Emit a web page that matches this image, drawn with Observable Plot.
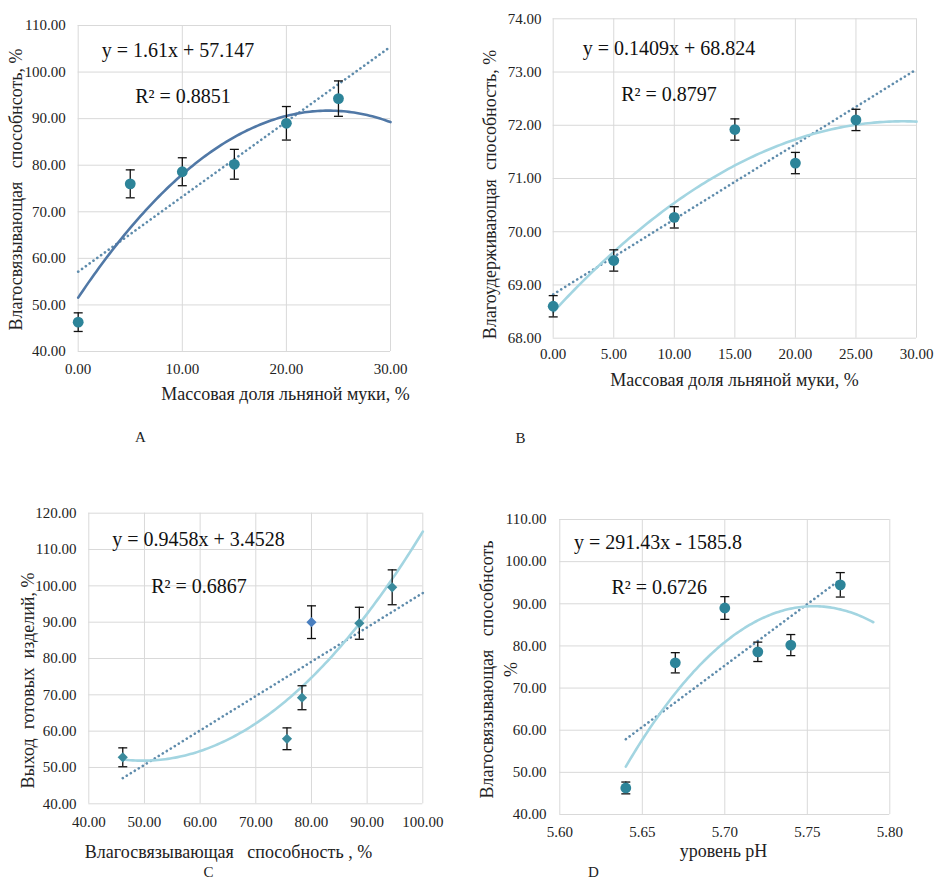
<!DOCTYPE html>
<html><head><meta charset="utf-8">
<script src="https://cdn.jsdelivr.net/npm/d3@7"></script>
<script src="https://cdn.jsdelivr.net/npm/@observablehq/plot@0.6"></script>
<style>
body{margin:0;background:#fff;}
#wrap{position:relative;width:944px;height:882px;background:#fff;overflow:hidden}
#wrap svg text{font-family:"Liberation Serif",serif !important;}
</style></head><body><div id="wrap"></div>
<script>
// ---------- data ----------
const aX = [0, 5, 10, 15, 20, 25];
const aY = [46.3, 76.0, 78.6, 80.2, 89.0, 94.3];
const aErr = [2.0, 3.0, 3.0, 3.2, 3.6, 3.8];

const bX = [0, 5, 10, 15, 20, 25];
const bY = [68.6, 69.46, 70.27, 71.92, 71.29, 72.1];
const bErr = [0.2, 0.2, 0.2, 0.2, 0.2, 0.2];

const cX = [46.1, 75.6, 78.3, 80.0, 88.6, 94.5];
const cY = [52.8, 57.9, 69.2, 90.0, 89.7, 99.6];
const cErr = [2.6, 3.0, 3.3, 4.5, 4.4, 4.8];
const cGroup = ["main", "main", "main", "other", "main", "main"];

const dX = [5.64, 5.67, 5.70, 5.72, 5.74, 5.77];
const dY = [46.3, 76.0, 89.0, 78.6, 80.2, 94.5];
const dErr = [1.4, 2.4, 2.7, 2.3, 2.5, 2.9];

const linSlope = [1.61, 0.1409, 0.9458, 291.43];
const linIntercept = [57.147, 68.824, 3.4528, -1585.8];
const rSquared = ["0.8851", "0.8797", "0.6867", "0.6726"];

const aXTicks = [0, 10, 20, 30];
const aYTicks = [40, 50, 60, 70, 80, 90, 100, 110];
const bXTicks = [0, 5, 10, 15, 20, 25, 30];
const bYTicks = [68, 69, 70, 71, 72, 73, 74];
const cXTicks = [40, 50, 60, 70, 80, 90, 100];
const cYTicks = [40, 50, 60, 70, 80, 90, 100, 110, 120];
const dXTicks = [5.60, 5.65, 5.70, 5.75, 5.80];
const dYTicks = [40, 50, 60, 70, 80, 90, 100, 110];

const panelLabels = ["A", "B", "C", "D"];
const xTitles = ["Массовая доля льняной муки, %", "Массовая доля льняной муки, %",
  "Влагосвязывающая\u00a0\u00a0\u00a0способность , %", "уровень pH"];
const yTitles = ["Влагосвязывающая\u00a0\u00a0\u00a0способнсоть, %", "Влагоудерживающая\u00a0\u00a0способность, %",
  "Выход\u00a0\u00a0готовых\u00a0\u00a0изделий, %", "Влагосвязывающая\u00a0\u00a0\u00a0способнсоть\n%"];

// ---------- helpers ----------
const FONT = "Liberation Serif";
const fmt = d3.format(".2f");
const capSymbol = {draw(ctx, size) { const r = Math.sqrt(size / Math.PI); ctx.moveTo(-r, 0); ctx.lineTo(r, 0); }};

function quadFit(xs, ys) {
  const mx = d3.mean(xs);
  let S = [0, 0, 0, 0, 0], T = [0, 0, 0];
  xs.forEach((x, i) => {
    const u = x - mx;
    for (let k = 0; k < 5; k++) S[k] += u ** k;
    for (let k = 0; k < 3; k++) T[k] += (u ** k) * ys[i];
  });
  const M = [[S[0], S[1], S[2], T[0]], [S[1], S[2], S[3], T[1]], [S[2], S[3], S[4], T[2]]];
  for (let c = 0; c < 3; c++) {
    for (let r = c + 1; r < 3; r++) {
      const f = M[r][c] / M[c][c];
      for (let k = c; k < 4; k++) M[r][k] -= f * M[c][k];
    }
  }
  const co = [0, 0, 0];
  for (let r = 2; r >= 0; r--) {
    let s = M[r][3];
    for (let k = r + 1; k < 3; k++) s -= M[r][k] * co[k];
    co[r] = s / M[r][r];
  }
  return x => co[0] + co[1] * (x - mx) + co[2] * (x - mx) ** 2;
}
function sample(f, x0, x1) {
  return d3.range(0, 121).map(i => { const x = x0 + (x1 - x0) * i / 120; return {x, y: f(x)}; });
}
function eqText(i) {
  const b = linIntercept[i];
  return `y = ${linSlope[i]}x ${b < 0 ? "-" : "+"} ${Math.abs(b)}`;
}

function panel(cfg) {
  const [ml, mt, mr, mb] = cfg.m;
  const at = (x, y) => ({frameAnchor: "top-left", dx: x - ml, dy: y - mt});
  const pts = cfg.xs.map((x, i) => ({x, y: cfg.ys[i], lo: cfg.ys[i] - cfg.err[i], hi: cfg.ys[i] + cfg.err[i], g: cfg.group ? cfg.group[i] : "main"}));
  const caps = pts.flatMap(p => [{x: p.x, y: p.lo}, {x: p.x, y: p.hi}]);
  const k = cfg.idx;
  const lin = x => linSlope[k] * x + linIntercept[k];
  const linPts = [cfg.linRange[0], cfg.linRange[1]].map(x => ({x, y: lin(x)}));
  const curve = sample(quadFit(cfg.xs, cfg.ys), cfg.curveRange[0], cfg.curveRange[1]);
  const grid = {stroke: "#d9d9d9", strokeOpacity: 1, strokeWidth: 1};
  const txt = {textAnchor: "middle", lineAnchor: "middle"};
  const svg = Plot.plot({
    width: cfg.w, height: cfg.h,
    marginLeft: ml, marginTop: mt, marginRight: mr, marginBottom: mb,
    style: {fontFamily: FONT, fontSize: "15px", color: "#222", background: "transparent", overflow: "visible"},
    x: {domain: cfg.xDomain},
    y: {domain: cfg.yDomain},
    color: {domain: ["main", "other"], range: [cfg.markColor, "#4a7fbf"]},
    marks: [
      Plot.gridX(cfg.xTicks, grid),
      Plot.gridY(cfg.yTicks, grid),
      Plot.axisX(cfg.xTicks, {tickSize: 0, tickPadding: cfg.xPad, tickFormat: fmt, label: null, fontSize: 15}),
      Plot.axisY(cfg.yTicks, {tickSize: 0, tickPadding: cfg.yPad, tickFormat: fmt, label: null, fontSize: 15}),
      Plot.line(linPts, {x: "x", y: "y", stroke: "#5f8cac", strokeWidth: 2.6, strokeDasharray: "0.1 4.6", strokeLinecap: "round"}),
      Plot.line(curve, {x: "x", y: "y", stroke: cfg.curveColor, strokeWidth: 2.6, curve: "linear"}),
      Plot.ruleX(pts, {x: "x", y1: "lo", y2: "hi", stroke: "#111", strokeWidth: 1.3}),
      Plot.dot(caps, {x: "x", y: "y", symbol: capSymbol, r: 4.5, stroke: "#111", strokeWidth: 1.3, fill: "none"}),
      Plot.dot(pts, {x: "x", y: "y", r: cfg.r, fill: "g", symbol: cfg.symbol, stroke: "none"}),
      Plot.text([eqText(k)], {text: d => d, ...at(...cfg.eqPos), ...txt, fontSize: 20, fill: "#111"}),
      Plot.text([`R² = ${rSquared[k]}`], {text: d => d, ...at(...cfg.r2Pos), ...txt, fontSize: 20, fill: "#111"}),
      Plot.text([xTitles[k]], {text: d => d, ...at(...cfg.xTitlePos), ...txt, fontSize: 18, fill: "#222"}),
      Plot.text([yTitles[k]], {text: d => d, ...at(...cfg.yTitlePos), ...txt, fontSize: 18, rotate: -90, lineHeight: 1.3, fill: "#222"}),
      Plot.text([panelLabels[k]], {text: d => d, ...at(...cfg.labelPos), ...txt, fontSize: 15, fill: "#222"})
    ]
  });
  svg.style.position = "absolute";
  svg.style.left = cfg.left + "px";
  svg.style.top = cfg.top + "px";
  document.getElementById("wrap").appendChild(svg);
}

const TEAL = "#2d8499";
panel({idx: 0, left: 0, top: 0, w: 470, h: 440, m: [77.7, 25, 80, 89],
  xs: aX, ys: aY, err: aErr, xDomain: [0, 30], yDomain: [40, 110], xTicks: aXTicks, yTicks: aYTicks,
  xPad: 12, yPad: 12.5, linRange: [0, 30], curveRange: [0, 30], curveColor: "#5078a6", markColor: TEAL,
  r: 5.4, symbol: "circle",
  eqPos: [177.5, 50], r2Pos: [182.5, 96], xTitlePos: [285, 394], yTitlePos: [14, 189], labelPos: [140, 437]});

panel({idx: 1, left: 470, top: 0, w: 474, h: 440, m: [82.7, 18.3, 28, 102.3],
  xs: bX, ys: bY, err: bErr, xDomain: [0, 30], yDomain: [68, 74], xTicks: bXTicks, yTicks: bYTicks,
  xPad: 10.5, yPad: 11.7, linRange: [0, 30], curveRange: [0, 30], curveColor: "#a3d5e1", markColor: TEAL,
  r: 5.4, symbol: "circle",
  eqPos: [198.5, 48], r2Pos: [198.5, 94], xTitlePos: [264, 380], yTitlePos: [18, 194], labelPos: [50, 438]});

panel({idx: 2, left: 0, top: 440, w: 470, h: 442, m: [88.3, 72.7, 47.7, 78.7],
  xs: cX, ys: cY, err: cErr, group: cGroup, xDomain: [40, 100], yDomain: [40, 120], xTicks: cXTicks, yTicks: cYTicks,
  xPad: 12.5, yPad: 12.3, linRange: [46.1, 100], curveRange: [46.1, 100], curveColor: "#a3d5e1", markColor: "#3a8a9c",
  r: 4.6, symbol: "diamond2",
  eqPos: [198, 99], r2Pos: [198.5, 145.7], xTitlePos: [228, 411.7], yTitlePos: [26, 240], labelPos: [208, 432]});

panel({idx: 3, left: 470, top: 440, w: 474, h: 442, m: [89.3, 79, 54.7, 68],
  xs: dX, ys: dY, err: dErr, xDomain: [5.6, 5.8], yDomain: [40, 110], xTicks: dXTicks, yTicks: dYTicks,
  xPad: 12, yPad: 13.3, linRange: [5.64, 5.77], curveRange: [5.64, 5.79], curveColor: "#a3d5e1", markColor: TEAL,
  r: 5.4, symbol: "circle",
  eqPos: [187.5, 101.7], r2Pos: [188.7, 147.3], xTitlePos: [253, 411], yTitlePos: [27, 229], labelPos: [123, 432]});
</script></body></html>
